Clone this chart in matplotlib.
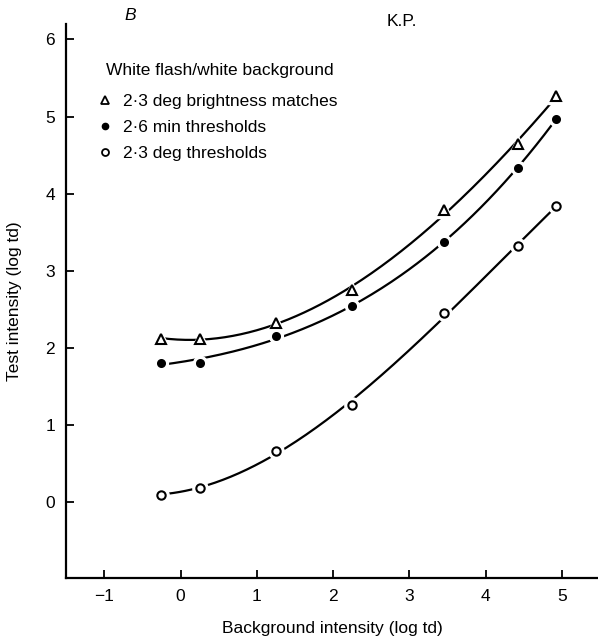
import numpy as np
import matplotlib
matplotlib.use('Agg')
import matplotlib.pyplot as plt
from matplotlib.lines import Line2D

plt.rcParams['font.family'] = ['Liberation Sans', 'DejaVu Sans']

# background intensity (log td)
bg = [-0.25, 0.25, 1.25, 2.25, 3.45, 4.42, 4.92]
# test intensity (log td)
bright_match = [2.12, 2.12, 2.33, 2.75, 3.79, 4.64, 5.27]
min_thresh = [1.81, 1.81, 2.15, 2.55, 3.37, 4.34, 4.97]
deg_thresh = [0.10, 0.19, 0.67, 1.26, 2.45, 3.32, 3.84]

xticks = [-1, 0, 1, 2, 3, 4, 5]
yticks = [0, 1, 2, 3, 4, 5, 6]


def smooth(x, y, deg=3):
    # smooth least squares curve, like the hand drawn fit in the paper
    coef = np.polyfit(x, y, deg)
    xs = np.linspace(min(x), max(x), 200)
    return xs, np.polyval(coef, xs)


fig = plt.figure(figsize=(5.98, 6.44), dpi=100)
ax = fig.add_axes([0.1104, 0.1025, 0.8896, 0.8602])

series = [
    (bright_match, '^', 'white', 7),
    (min_thresh, 'o', 'black', 5),
    (deg_thresh, 'o', 'white', 6),
]
for ys, mk, fc, ms in series:
    sx, sy = smooth(bg, ys)
    ax.plot(sx, sy, color='black', lw=1.6, zorder=1)
    # white halo leaves a small gap between curve and symbol
    ax.plot(bg, ys, ls='none', marker=mk, ms=ms + 5, mfc='white', mec='white', zorder=2)
    ax.plot(bg, ys, ls='none', marker=mk, ms=ms, mfc=fc, mec='black', mew=1.5, zorder=3)

ax.set_xlim(-1.5, 5.47)
ax.set_ylim(-0.98, 6.2)
ax.set_xticks(xticks)
ax.set_yticks(yticks)
ax.set_xticklabels(['\u22121' if v < 0 else str(v) for v in xticks])
ax.tick_params(direction='in', length=6, width=1.3, labelsize=12.5, pad=8)
ax.spines['top'].set_visible(False)
ax.spines['right'].set_visible(False)
ax.spines['left'].set_linewidth(1.6)
ax.spines['bottom'].set_linewidth(1.6)

ax.set_xlabel('Background intensity (log td)', fontsize=12.5, labelpad=12)
ax.set_ylabel('Test intensity (log td)', fontsize=12.5, labelpad=17)

handles = [
    Line2D([], [], ls='none', marker='^', ms=6, mfc='white', mec='black', mew=1.3),
    Line2D([], [], ls='none', marker='o', ms=4.5, mfc='black', mec='black'),
    Line2D([], [], ls='none', marker='o', ms=5, mfc='white', mec='black', mew=1.3),
]
labels = ['2\u00b73 deg brightness matches', '2\u00b76 min thresholds', '2\u00b73 deg thresholds']
ax.legend(handles, labels, loc='upper left', bbox_to_anchor=(0.0607, 0.874),
          frameon=False, fontsize=12.5, handlelength=0.8, handletextpad=0.6,
          labelspacing=0.62, borderpad=0, borderaxespad=0)
fig.text(106 / 598, 1 - 70 / 644, 'White flash/white background', fontsize=12.5,
         ha='left', va='center')

fig.text(130 / 598, 1 - 16 / 644, 'B', fontsize=12.5, style='italic', ha='center', va='center')
fig.text(402 / 598, 1 - 22 / 644, 'K.P.', fontsize=12.5, ha='center', va='center')

fig.savefig('out.png', dpi=100)
